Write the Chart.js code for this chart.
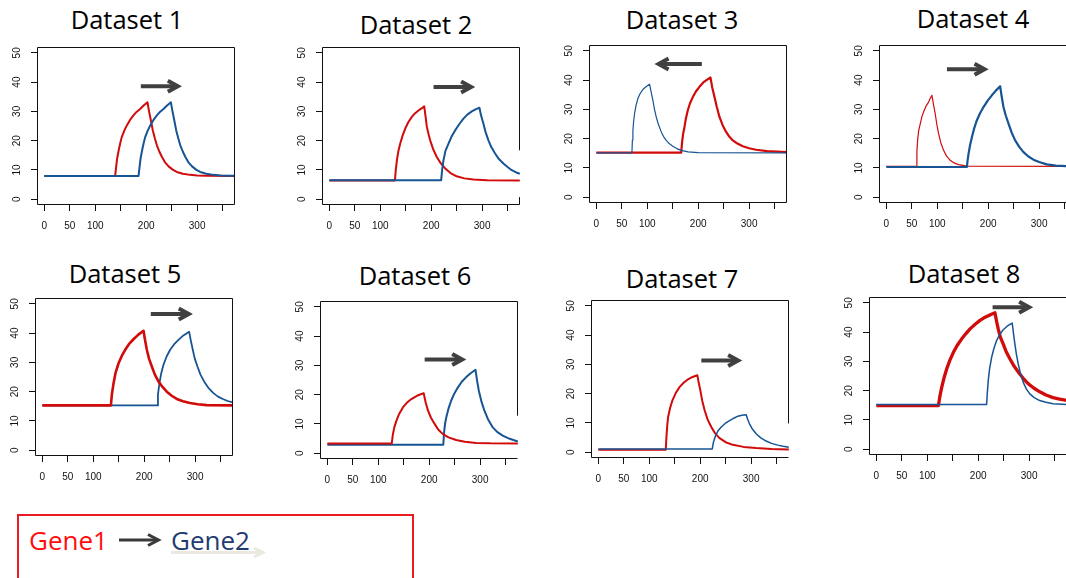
<!DOCTYPE html>
<html>
<head>
<meta charset="utf-8">
<title>Gene1 / Gene2 shift</title>
<script src="https://cdn.jsdelivr.net/npm/chart.js@4.4.1/dist/chart.umd.min.js"></script>
<style>
	html, body { margin: 0; padding: 0; background: #fff; }
	#stage { position: relative; width: 1066px; height: 578px; overflow: hidden; }
	.panel-title { position: absolute; font-family: 'Open Sans', sans-serif; font-size: 25.5px; line-height: 1; white-space: nowrap; color: #000; transform: translateX( -50% ); }
	.panel-canvas { position: absolute; }
	#key { position: absolute; left: 17px; top: 514px; width: 393px; height: 80px; border: 2px solid #ea1c22; }
	.key-label { position: absolute; top: 527px; font-family: 'Open Sans', sans-serif; font-size: 26px; line-height: 1; white-space: nowrap; }
	#key-arrows { position: absolute; left: 0; top: 0; }
</style>
</head>
<body>
<div id="stage">
	<svg id="key-arrows" width="420" height="578">
		<g fill="none" stroke="#ebe9df" stroke-width="3">
			<line x1="171" y1="552.5" x2="262" y2="552.5" />
			<polyline points="254,548 263,552.5 254,557" />
		</g>
		<g fill="none" stroke="#3a3a3a" stroke-width="3">
			<line x1="119" y1="540" x2="157" y2="540" />
			<polyline points="148,534.5 158.5,540 148,545.5" />
		</g>
	</svg>
	<div id="key"></div>
	<span class="key-label" style="left: 29px; color: #ff0d0d;">Gene1</span>
	<span class="key-label" style="left: 171px; color: #1f3b70;">Gene2</span>
</div>
<script>
( function() {

	/**
	 * Axis ticks, shared by all panels.
	 */
	var xTicks = [ 0, 50, 100, 150, 200, 250, 300, 350 ];
	var xTickLabels = [ '0', '50', '100', '', '200', '', '300', '' ];
	var yTicks = [ 0, 10, 20, 30, 40, 50 ];
	var yTickLabels = [ '0', '10', '20', '30', '40', '50' ];

	var titles = [ 'Dataset 1', 'Dataset 2', 'Dataset 3', 'Dataset 4', 'Dataset 5', 'Dataset 6', 'Dataset 7', 'Dataset 8' ];

	/**
	 * Expression curves, [time, level].
	 */
	var gene1Set1 = [ [ 0, 7.9 ], [ 139, 7.9 ], [ 141, 11 ], [ 143, 13.9 ], [ 146, 16.7 ], [ 149, 19.1 ], [ 152, 21.2 ], [ 157, 23.4 ], [ 162, 25.2 ], [ 168, 27 ], [ 175, 28.6 ], [ 181, 29.8 ], [ 188, 30.8 ], [ 195, 32 ], [ 202.6, 33.1 ], [ 205, 30.6 ], [ 208, 28 ], [ 213, 23.5 ], [ 217, 20.8 ], [ 221, 18.4 ], [ 226, 16.2 ], [ 231, 14.4 ], [ 237, 12.6 ], [ 244, 11.2 ], [ 252, 10.1 ], [ 260, 9.3 ], [ 272, 8.7 ], [ 286, 8.3 ], [ 300, 8.1 ], [ 319, 8 ], [ 374, 7.9 ] ];
	var gene2Set1 = [ [ 0, 7.95 ], [ 185, 7.95 ], [ 187, 11 ], [ 189, 13.9 ], [ 192, 16.7 ], [ 195, 19.1 ], [ 198, 21.2 ], [ 203, 23.4 ], [ 208, 25.2 ], [ 214, 27 ], [ 221, 28.6 ], [ 227, 29.8 ], [ 234, 30.8 ], [ 241, 32 ], [ 248.6, 33.1 ], [ 251, 30.6 ], [ 254, 28 ], [ 259, 23.5 ], [ 263, 20.8 ], [ 267, 18.4 ], [ 272, 16.2 ], [ 277, 14.4 ], [ 283, 12.6 ], [ 290, 11.2 ], [ 298, 10.1 ], [ 306, 9.3 ], [ 318, 8.7 ], [ 332, 8.3 ], [ 346, 8.1 ], [ 365, 8 ], [ 374, 8 ] ];

	var gene1Set2 = [ [ 0, 6.4 ], [ 128.8, 6.4 ], [ 130.5, 10 ], [ 132.7, 13.3 ], [ 135.5, 16.4 ], [ 139.2, 19 ], [ 144, 21.8 ], [ 149, 24.1 ], [ 155, 26.3 ], [ 162, 28.1 ], [ 168, 29.3 ], [ 175, 30.3 ], [ 181, 31 ], [ 186.3, 31.7 ], [ 189, 28.2 ], [ 191.5, 24.7 ], [ 195, 22.1 ], [ 198, 20.1 ], [ 204, 17 ], [ 211, 14.4 ], [ 219, 12.2 ], [ 227.5, 10.5 ], [ 238, 8.9 ], [ 250, 7.8 ], [ 265, 7.1 ], [ 283, 6.7 ], [ 310, 6.5 ], [ 374, 6.4 ] ];
	var gene2Set2 = [ [ 0, 6.5 ], [ 219.6, 6.5 ], [ 221.5, 10 ], [ 224.2, 13.3 ], [ 228, 16.5 ], [ 234, 19 ], [ 240, 21.4 ], [ 247, 23.5 ], [ 255, 25.6 ], [ 263.4, 27.5 ], [ 271, 28.9 ], [ 279.7, 30 ], [ 287, 30.7 ], [ 294.8, 31.25 ], [ 297.5, 28.9 ], [ 302.6, 25.8 ], [ 307, 22.8 ], [ 312.4, 20.1 ], [ 318, 17.8 ], [ 325.5, 15.6 ], [ 333, 13.7 ], [ 341.8, 12.2 ], [ 350, 11 ], [ 358.2, 9.9 ], [ 366, 9.2 ], [ 374, 8.7 ] ];

	var gene1Set3 = [ [ 0, 15.2 ], [ 166.6, 15.2 ], [ 168.5, 19 ], [ 170.5, 21.7 ], [ 173.1, 24 ], [ 176, 27 ], [ 179.6, 29.7 ], [ 184, 32.1 ], [ 189.4, 34.2 ], [ 195.5, 36.1 ], [ 202.5, 37.7 ], [ 210, 39.2 ], [ 217, 40.1 ], [ 224.1, 40.9 ], [ 227.5, 37.6 ], [ 232, 34.2 ], [ 236.5, 30.9 ], [ 241.8, 27.4 ], [ 248, 24.6 ], [ 254.9, 22.3 ], [ 261, 20.7 ], [ 268, 19.4 ], [ 277, 18.3 ], [ 287.6, 17.4 ], [ 300, 16.7 ], [ 313.7, 16.2 ], [ 335, 15.7 ], [ 374, 15.4 ] ];
	var gene2Set3 = [ [ 0, 15.1 ], [ 69.9, 15.1 ], [ 70.8, 19.5 ], [ 71.8, 22.8 ], [ 73.3, 26 ], [ 75.1, 28.6 ], [ 78, 31.4 ], [ 81.6, 33.7 ], [ 86, 35.4 ], [ 91.4, 36.8 ], [ 98, 37.8 ], [ 104.5, 38.6 ], [ 107.5, 36.1 ], [ 111, 33.1 ], [ 114, 30.2 ], [ 117.6, 27.4 ], [ 122, 24.8 ], [ 127.5, 22.3 ], [ 132, 20.7 ], [ 137.3, 19.4 ], [ 143, 18.3 ], [ 150.2, 17.4 ], [ 158, 16.6 ], [ 166.6, 16 ], [ 180, 15.5 ], [ 200, 15.2 ], [ 374, 15.1 ] ];

	var gene1Set4 = [ [ 0, 10.5 ], [ 58.8, 10.5 ], [ 60, 15.5 ], [ 61.4, 19.4 ], [ 63.5, 22.7 ], [ 66.7, 25.1 ], [ 70, 27.6 ], [ 74.5, 29.7 ], [ 78.5, 31.3 ], [ 83, 32.5 ], [ 86, 33.7 ], [ 89.5, 34.8 ], [ 92.5, 31.8 ], [ 96, 28.5 ], [ 99, 25 ], [ 102.6, 21.7 ], [ 107, 18.6 ], [ 112.4, 16 ], [ 118, 14.1 ], [ 125.5, 12.6 ], [ 133, 11.7 ], [ 141.8, 11.1 ], [ 158, 10.6 ], [ 374, 10.5 ] ];
	var gene2Set4 = [ [ 0, 10.3 ], [ 158.2, 10.3 ], [ 159.5, 12.5 ], [ 161.4, 14.8 ], [ 164.5, 17.8 ], [ 168, 20.5 ], [ 172.5, 23.5 ], [ 177.8, 26.3 ], [ 184, 28.7 ], [ 190.8, 30.8 ], [ 199, 33 ], [ 207.2, 34.8 ], [ 215, 36.4 ], [ 223.5, 37.9 ], [ 226.5, 34.4 ], [ 230, 30.8 ], [ 234.5, 27.9 ], [ 239.9, 25.1 ], [ 246, 22.1 ], [ 253, 19.4 ], [ 261, 17.2 ], [ 269.3, 15.4 ], [ 279, 13.9 ], [ 288.9, 12.8 ], [ 300, 12 ], [ 315, 11.2 ], [ 333, 10.8 ], [ 353, 10.6 ], [ 374, 10.5 ] ];

	var gene1Set5 = [ [ 0, 15.3 ], [ 134.6, 15.3 ], [ 136.5, 19 ], [ 139.9, 22.9 ], [ 144, 26.6 ], [ 149.7, 29.7 ], [ 156, 32.2 ], [ 162.7, 34.3 ], [ 170, 36.2 ], [ 179, 37.9 ], [ 188, 39.4 ], [ 198.7, 40.8 ], [ 201.5, 37.8 ], [ 205.2, 34.3 ], [ 209.5, 31.3 ], [ 215, 28.6 ], [ 221, 25.8 ], [ 228, 23.5 ], [ 236, 21.6 ], [ 244.4, 20 ], [ 254, 18.6 ], [ 264, 17.5 ], [ 276, 16.7 ], [ 290, 16.1 ], [ 305, 15.7 ], [ 323, 15.4 ], [ 374, 15.3 ] ];
	var gene2Set5 = [ [ 0, 15.3 ], [ 225.5, 15.3 ], [ 227, 19 ], [ 230, 22.9 ], [ 233.5, 26.3 ], [ 237.9, 29.2 ], [ 244, 32 ], [ 251, 34.3 ], [ 259, 36.2 ], [ 267.3, 37.7 ], [ 277, 39.2 ], [ 288.2, 40.5 ], [ 291.5, 37.5 ], [ 295.4, 34.3 ], [ 299.5, 31.2 ], [ 304.6, 28.6 ], [ 310.5, 25.8 ], [ 317.6, 23.5 ], [ 326, 21.3 ], [ 336, 19.5 ], [ 345, 18.3 ], [ 355.6, 17.4 ], [ 364, 16.8 ], [ 374, 16.3 ] ];

	var gene1Set6 = [ [ 0, 3.3 ], [ 126.5, 3.3 ], [ 128.5, 6.2 ], [ 131.5, 8.8 ], [ 135.7, 11.1 ], [ 141, 13.4 ], [ 148.7, 15.7 ], [ 156, 17.2 ], [ 165, 18.5 ], [ 176, 19.6 ], [ 189.2, 20.5 ], [ 193, 17.4 ], [ 197.7, 14.5 ], [ 203.5, 12.1 ], [ 210.7, 10 ], [ 218, 8 ], [ 227, 6.5 ], [ 238, 5.4 ], [ 253, 4.5 ], [ 270, 3.9 ], [ 292, 3.5 ], [ 320, 3.35 ], [ 374, 3.3 ] ];
	var gene2Set6 = [ [ 0, 2.9 ], [ 227.7, 2.9 ], [ 229.5, 7.5 ], [ 231.3, 10.2 ], [ 233.5, 12.2 ], [ 238, 15.3 ], [ 243.3, 18 ], [ 249.5, 20.4 ], [ 256.4, 22.5 ], [ 264, 24.4 ], [ 272.7, 26 ], [ 282, 27.4 ], [ 290.9, 28.5 ], [ 294, 24.9 ], [ 297.4, 21.4 ], [ 302.5, 17.7 ], [ 308.5, 14.5 ], [ 316, 11.4 ], [ 324.9, 8.8 ], [ 334, 7.2 ], [ 344.4, 6 ], [ 358, 4.9 ], [ 374, 4 ] ];

	var gene1Set7 = [ [ 0, 0.8 ], [ 132.4, 0.8 ], [ 134, 6 ], [ 135.5, 9.5 ], [ 137, 12 ], [ 141, 15.2 ], [ 145.5, 17.7 ], [ 152, 20.2 ], [ 159.8, 22.3 ], [ 168, 23.8 ], [ 176.1, 24.9 ], [ 185, 25.7 ], [ 194.4, 26.3 ], [ 197, 23.9 ], [ 200.3, 21.1 ], [ 204, 17.6 ], [ 208.7, 14.3 ], [ 214.5, 11.2 ], [ 221.8, 8.6 ], [ 229, 6.5 ], [ 238, 4.8 ], [ 250, 3.4 ], [ 264.2, 2.5 ], [ 285, 1.8 ], [ 309.8, 1.4 ], [ 340, 1.1 ], [ 374, 0.9 ] ];
	var gene2Set7 = [ [ 0, 1.1 ], [ 223.7, 1.1 ], [ 226, 3.4 ], [ 230.3, 5.7 ], [ 235, 7.3 ], [ 241.4, 8.6 ], [ 249, 9.8 ], [ 257.7, 10.8 ], [ 266, 11.6 ], [ 274, 12.3 ], [ 282, 12.6 ], [ 290.3, 12.8 ], [ 293, 11.3 ], [ 296.8, 9.7 ], [ 302.5, 7.9 ], [ 309.8, 6.3 ], [ 319, 4.9 ], [ 329.4, 3.8 ], [ 340, 3 ], [ 352.3, 2.4 ], [ 363, 2 ], [ 374, 1.7 ] ];

	var gene1Set8 = [ [ 0, 14.9 ], [ 122, 14.9 ], [ 125, 18.3 ], [ 128.5, 21.2 ], [ 133, 24.4 ], [ 138.3, 27.5 ], [ 144.5, 30.4 ], [ 151.3, 33.1 ], [ 159, 35.5 ], [ 167.7, 37.7 ], [ 176, 39.5 ], [ 184, 41.1 ], [ 193.5, 42.6 ], [ 203.5, 44 ], [ 211.5, 44.9 ], [ 219.8, 45.6 ], [ 226, 46.1 ], [ 232.9, 46.6 ], [ 236, 43.8 ], [ 239.3, 41.1 ], [ 243.5, 38.3 ], [ 249.1, 36 ], [ 255, 33.3 ], [ 262.2, 30.9 ], [ 270, 28.5 ], [ 278.5, 26.4 ], [ 288, 24.3 ], [ 298, 22.4 ], [ 309, 20.9 ], [ 320.9, 19.6 ], [ 333, 18.5 ], [ 347, 17.6 ], [ 360, 17.1 ], [ 374, 16.7 ] ];
	var gene2Set8 = [ [ 0, 15.3 ], [ 216.6, 15.3 ], [ 218, 19.5 ], [ 219.8, 23.5 ], [ 222.5, 27.6 ], [ 226.4, 31.4 ], [ 231, 34.5 ], [ 236.2, 37.1 ], [ 242, 39.1 ], [ 249.1, 40.8 ], [ 257.5, 42.1 ], [ 266.8, 43.1 ], [ 269.5, 39.3 ], [ 272, 36 ], [ 275, 32.5 ], [ 278.5, 29.2 ], [ 283, 25.9 ], [ 288.3, 22.9 ], [ 294.5, 20.6 ], [ 301.4, 18.9 ], [ 310, 17.6 ], [ 320.9, 16.6 ], [ 333, 16 ], [ 347, 15.5 ], [ 374, 15.3 ] ];

	/**
	 * Shift arrows: [from, to, level].
	 */
	var shiftSet1 = [ 189.5, 270, 38.6 ];
	var shiftSet2 = [ 204.6, 286.3, 38.3 ];
	var shiftSet3 = [ 207.2, 114.4, 45.5 ];
	var shiftSet4 = [ 119, 200.7, 43.7 ];
	var shiftSet5 = [ 213, 295.4, 46.5 ];
	var shiftSet6 = [ 191.1, 272.7, 32 ];
	var shiftSet7 = [ 202.2, 282.4, 31.3 ];
	var shiftSet8 = [ 228.3, 307.9, 48.5 ];

	var gene1Color = '#d10a0a';
	var gene2Color = '#175493';

	// plot box size and the room kept around it on each canvas
	var boxW = 198;
	var boxH = 158;
	var padLeft = 40;
	var padTop = 20;
	var padRight = 6;
	var padBottom = 34;

	var panels = [
		{ left: 37, top: 47, titleX: 127, titleY: 30, gene1: gene1Set1, gene2: gene2Set1, shift: shiftSet1, widths: [ 2, 2 ], gene2OnTop: true },
		{ left: 322, top: 47, titleX: 416, titleY: 35, gene1: gene1Set2, gene2: gene2Set2, shift: shiftSet2, widths: [ 2, 2 ], gene2OnTop: true, rightGap: [ 0.7, 16.7 ] },
		{ left: 589, top: 45, titleX: 682, titleY: 29.3, gene1: gene1Set3, gene2: gene2Set3, shift: shiftSet3, widths: [ 2.2, 1.2 ], gene2OnTop: true },
		{ left: 879, top: 45, titleX: 973, titleY: 29, gene1: gene1Set4, gene2: gene2Set4, shift: shiftSet4, widths: [ 1.2, 2.2 ], gene2OnTop: true },
		{ left: 35, top: 298, titleX: 125, titleY: 284, gene1: gene1Set5, gene2: gene2Set5, shift: shiftSet5, widths: [ 2.6, 1.8 ], gene2OnTop: false },
		{ left: 320, top: 301, titleX: 415, titleY: 286, gene1: gene1Set6, gene2: gene2Set6, shift: shiftSet6, widths: [ 2, 2 ], gene2OnTop: false, rightGap: [ -2, 12.8 ] },
		{ left: 591, top: 300, titleX: 682, titleY: 288.3, gene1: gene1Set7, gene2: gene2Set7, shift: shiftSet7, widths: [ 2, 1.5 ], gene2OnTop: true, rightGap: [ -2, 9.8 ] },
		{ left: 869, top: 297, titleX: 964, titleY: 284, gene1: gene1Set8, gene2: gene2Set8, shift: shiftSet8, widths: [ 3.3, 1.5 ], gene2OnTop: true }
	];

	var tickFont = { family: "'Liberation Sans', Arial, sans-serif", size: 10 };
	var inkColor = '#111';

	/**
	 * Box round the plot area; the right side may skip a stretch.
	 */
	var panelFrame = {
		id: 'panelFrame',
		afterDraw: function( chart, args, opts ) {
			var ctx = chart.ctx;
			var a = chart.chartArea;
			var l = Math.round( a.left ) + 0.5;
			var r = Math.round( a.right ) - 0.5;
			var t = Math.round( a.top ) + 0.5;
			var b = Math.round( a.bottom ) - 0.5;

			ctx.save();
			ctx.strokeStyle = inkColor;
			ctx.lineWidth = 1;
			ctx.beginPath();
			ctx.moveTo( r, t );
			ctx.lineTo( l, t );
			ctx.lineTo( l, b );
			ctx.lineTo( r, b );

			if ( opts.gap ) {
				var gTop = chart.scales.y.getPixelForValue( opts.gap[1] );
				var gBottom = chart.scales.y.getPixelForValue( opts.gap[0] );

				ctx.moveTo( r, t );
				ctx.lineTo( r, gTop );
				if ( gBottom < b ) {
					ctx.moveTo( r, gBottom );
					ctx.lineTo( r, b );
				}
			} else {
				ctx.moveTo( r, t );
				ctx.lineTo( r, b );
			}

			ctx.stroke();
			ctx.restore();
		}
	};

	/**
	 * Heavy arrow showing the direction of the shift.
	 */
	var shiftArrow = {
		id: 'shiftArrow',
		afterDatasetsDraw: function( chart, args, opts ) {
			var ctx = chart.ctx;
			var x1 = chart.scales.x.getPixelForValue( opts.shift[0] );
			var x2 = chart.scales.x.getPixelForValue( opts.shift[1] );
			var y = chart.scales.y.getPixelForValue( opts.shift[2] );
			var dir = x2 > x1 ? 1 : -1;
			var tip = x2 - dir * 4;

			ctx.save();
			ctx.strokeStyle = '#404040';
			ctx.lineWidth = 4;
			ctx.lineCap = 'butt';
			ctx.lineJoin = 'miter';
			ctx.beginPath();
			ctx.moveTo( x1, y );
			ctx.lineTo( tip - dir, y );
			ctx.stroke();

			ctx.beginPath();
			ctx.moveTo( tip - dir * 10, y - 5.5 );
			ctx.lineTo( tip, y );
			ctx.lineTo( tip - dir * 10, y + 5.5 );
			ctx.stroke();
			ctx.restore();
		}
	};

	/**
	 * Build one panel.
	 */
	function drawPanel( panel, index ) {
		var stage = document.getElementById( 'stage' );

		var title = document.createElement( 'div' );
		title.className = 'panel-title';
		title.textContent = titles[index];
		title.style.left = panel.titleX + 'px';
		title.style.top = ( panel.titleY - 22.6 ) + 'px';
		stage.appendChild( title );

		var canvas = document.createElement( 'canvas' );
		canvas.className = 'panel-canvas';
		canvas.width = padLeft + boxW + padRight;
		canvas.height = padTop + boxH + padBottom;
		canvas.style.left = ( panel.left - padLeft ) + 'px';
		canvas.style.top = ( panel.top - padTop ) + 'px';
		stage.appendChild( canvas );

		new Chart( canvas.getContext( '2d' ), {
			type: 'line',
			data: {
				datasets: [
					{
						label: 'Gene1',
						data: panel.gene1,
						borderColor: gene1Color,
						borderWidth: panel.widths[0],
						order: panel.gene2OnTop ? 1 : 0
					},
					{
						label: 'Gene2',
						data: panel.gene2,
						borderColor: gene2Color,
						borderWidth: panel.widths[1],
						order: panel.gene2OnTop ? 0 : 1
					}
				]
			},
			options: {
				responsive: false,
				animation: false,
				devicePixelRatio: 1,
				events: [],
				layout: {
					padding: { top: padTop, right: padRight, left: 0, bottom: 0 }
				},
				elements: {
					point: { radius: 0 },
					line: { tension: 0, borderJoinStyle: 'round', fill: false }
				},
				plugins: {
					legend: { display: false },
					tooltip: { enabled: false },
					panelFrame: { gap: panel.rightGap },
					shiftArrow: { shift: panel.shift }
				},
				scales: {
					x: {
						type: 'linear',
						min: -14.4,
						max: 374.4,
						afterBuildTicks: function( scale ) {
							scale.ticks = xTicks.map( function( v ) { return { value: v }; } );
						},
						afterFit: function( scale ) {
							scale.height = padBottom;
						},
						grid: { drawOnChartArea: false, drawTicks: true, tickLength: 6, color: inkColor },
						border: { display: false },
						ticks: {
							autoSkip: false,
							maxRotation: 0,
							padding: 9,
							color: inkColor,
							font: tickFont,
							callback: function( value, i ) {
								return xTickLabels[i];
							}
						}
					},
					y: {
						type: 'linear',
						min: -2,
						max: 52,
						afterBuildTicks: function( scale ) {
							scale.ticks = yTicks.map( function( v ) { return { value: v }; } );
						},
						afterFit: function( scale ) {
							scale.width = padLeft;
						},
						grid: { drawOnChartArea: false, drawTicks: true, tickLength: 6, color: inkColor },
						border: { display: false },
						ticks: {
							autoSkip: false,
							minRotation: 90,
							maxRotation: 90,
							crossAlign: 'center',
							padding: 8,
							color: inkColor,
							font: tickFont,
							callback: function( value, i ) {
								return yTickLabels[i];
							}
						}
					}
				}
			},
			plugins: [ panelFrame, shiftArrow ]
		} );
	}

	panels.forEach( drawPanel );

} )();
</script>
</body>
</html>
